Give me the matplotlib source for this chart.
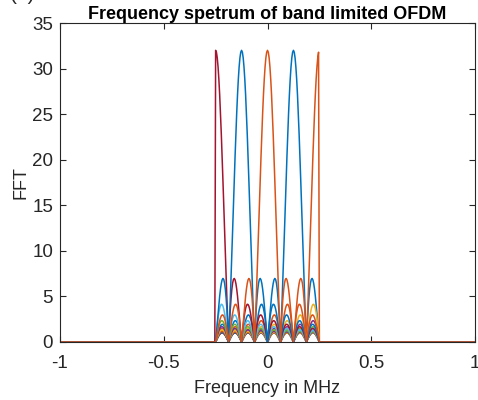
import numpy as np
import matplotlib
matplotlib.use("Agg")
import matplotlib.pyplot as plt

# ---- data ----
fs_mhz = 2.0                 # x axis spans -fs/2 .. fs/2
n_samples = 32               # peak height of each main lobe
n_fft = 512
subcarrier_index = list(range(1, 17))   # subcarriers k = 1..16, spacing 0.125 MHz
subcarrier_spacing = 0.125
band_lo, band_hi = -0.25, 0.25
x_ticks = [-1, -0.5, 0, 0.5, 1]
x_ticklabels = ["-1", "-0.5", "0", "0.5", "1"]
y_ticks = [0, 5, 10, 15, 20, 25, 30, 35]
title_text = "Frequency spetrum of band limited OFDM"
xlabel_text = "Frequency in MHz"
ylabel_text = "FFT"

matlab_colors = ["#0072BD", "#D95319", "#EDB120", "#7E2F8E",
                 "#77AC30", "#4DBEEE", "#A2142F"]

plt.rcParams["font.family"] = ["Liberation Sans", "DejaVu Sans"]

fig = plt.figure(figsize=(4.78, 4.0), dpi=100)
ax = fig.add_axes([60/478, 1-342/400, (475-60)/478, (342-23)/400])

n = np.arange(n_samples)
freq = (np.arange(n_fft) - n_fft // 2) * fs_mhz / n_fft
mask = (freq >= band_lo) & (freq < band_hi)

for i, k in enumerate(subcarrier_index):
    fk = k * subcarrier_spacing
    sig = np.exp(2j * np.pi * fk * n / fs_mhz)
    spec = np.abs(np.fft.fftshift(np.fft.fft(sig, n_fft)))
    spec = np.where(mask, spec, 0.0)
    ax.plot(freq, spec, color=matlab_colors[i % 7], lw=1.1)

ax.set_xlim(-1, 1)
ax.set_ylim(0, 35)
ax.set_xticks(x_ticks)
ax.set_xticklabels(x_ticklabels)
ax.set_yticks(y_ticks)

axis_col = "#262626"
for s in ax.spines.values():
    s.set_color(axis_col)
    s.set_linewidth(0.8)
ax.tick_params(direction="in", top=True, right=True, length=4, width=0.8,
               colors=axis_col, labelsize=13.5, pad=5)
ax.tick_params(axis="x", pad=9)
ax.set_title(title_text, fontsize=13, fontweight="bold", color="black", pad=3)
ax.set_xlabel(xlabel_text, fontsize=13, color=axis_col, labelpad=6)
ax.set_ylabel(ylabel_text, fontsize=13, color=axis_col, labelpad=2)

fig.text(0.047, 1.013, "(a)", fontsize=15, ha="center", va="center", color=axis_col)

fig.savefig("out.png", dpi=100)
